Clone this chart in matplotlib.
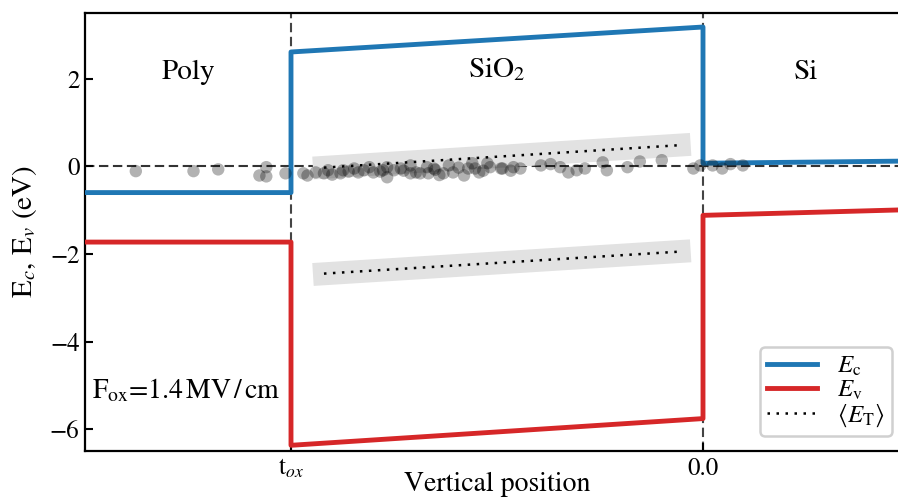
import matplotlib
matplotlib.use('Agg')
import matplotlib.pyplot as plt

plt.rcParams['font.family'] = ['STIXGeneral', 'DejaVu Serif']
plt.rcParams['mathtext.fontset'] = 'stix'

# band edges (x in nm, oxide from t_ox=-3 to 0)
ec_x = [-4.5, -3.0, -3.0, 0.0, 0.0, 1.5]
ec_y = [-0.60, -0.60, 2.61, 3.18, 0.07, 0.12]
ev_x = [-4.5, -3.0, -3.0, 0.0, 0.0, 1.5]
ev_y = [-1.73, -1.73, -6.37, -5.76, -1.12, -0.99]

# mean trap levels and their spread
et_x = [-2.76, -0.18]
et_up = [-0.03, 0.48]
et_low = [-2.45, -1.95]
band_x = [-2.84, -0.09]
band_up = [-0.04, 0.50]
band_low = [-2.47, -1.93]

# trap positions / energies
trap_x = [-4.13, -3.71, -3.53, -3.23, -3.18, -3.18, -3.04,
          -2.91, -2.88, -2.82, -2.76, -2.73, -2.70, -2.64, -2.62, -2.58, -2.54,
          -2.51, -2.47, -2.43, -2.40, -2.35, -2.33, -2.30, -2.30, -2.25, -2.20,
          -2.18, -2.13, -2.13, -2.09, -2.06, -2.01, -2.00, -1.96, -1.95, -1.92,
          -1.89, -1.85, -1.82, -1.78, -1.74, -1.71, -1.68, -1.66, -1.63, -1.60,
          -1.57, -1.55, -1.47, -1.46, -1.40, -1.38, -1.33, -1.18, -1.11, -1.04,
          -0.98, -0.92, -0.86, -0.73, -0.70, -0.55, -0.46, -0.30,
          -0.07, -0.02, 0.07, 0.14, 0.20, 0.29]
trap_y = [-0.11, -0.11, -0.07, -0.21, -0.23, -0.02, -0.16,
          -0.16, -0.21, -0.14, -0.16, -0.09, -0.19, -0.16, -0.09, -0.12, -0.05,
          -0.14, -0.09, -0.02, -0.14, -0.12, -0.09, -0.02, -0.25, -0.09, -0.05,
          -0.10, 0.02, -0.16, -0.14, -0.16, -0.02, -0.16, -0.05, -0.08, -0.20,
          -0.16, 0.02, -0.14, -0.03, -0.21, -0.05, 0.07, -0.05, -0.14, -0.10,
          0.07, -0.02, -0.05, -0.05, -0.10, -0.02, -0.05, 0.02, 0.05, -0.02,
          -0.14, -0.09, -0.05, 0.09, -0.09, -0.02, 0.11, 0.14,
          -0.05, 0.02, 0.02, -0.05, 0.05, 0.02]

x_ticks = [-3.0, 0.0]
x_ticklabels = ['t$_{ox}$', '0.0']
y_ticks = [-6, -4, -2, 0, 2]

fig = plt.figure(figsize=(8.98, 4.98), dpi=100)
ax = fig.add_axes([85 / 898, 47 / 498, 824 / 898, 438 / 498])

ax.axhline(0, color='#333333', lw=1.5, dashes=(4.5, 2.2), zorder=1)
for xv in x_ticks:
    ax.axvline(xv, color='#444444', lw=1.5, dashes=(4.5, 2.2), zorder=1)

ax.plot(band_x, band_up, color='#e2e2e2', lw=16.5, solid_capstyle='butt', zorder=2)
ax.plot(band_x, band_low, color='#e2e2e2', lw=16.5, solid_capstyle='butt', zorder=2)

ax.plot(ec_x, ec_y, color='#1f77b4', lw=3.5, label=r'$E_{\rm c}$', zorder=3)
ax.plot(ev_x, ev_y, color='#d62728', lw=3.5, label=r'$E_{\rm v}$', zorder=3)
ax.plot(et_x, et_up, color='black', lw=1.8, dashes=(1, 2.6), label=r'$\langle E_{\rm T}\rangle$', zorder=4)
ax.plot(et_x, et_low, color='black', lw=1.8, dashes=(1, 2.6), zorder=4)

ax.scatter(trap_x, trap_y, s=80, color='black', alpha=0.3, edgecolors='none', zorder=5)

ax.text(-3.75, 2.15, 'Poly', fontsize=21, ha='center', va='center')
ax.text(-1.5, 2.2, 'SiO$_2$', fontsize=21, ha='center', va='center')
ax.text(0.75, 2.15, 'Si', fontsize=21, ha='center', va='center')
ax.text(-4.45, -5.13, r'F$_{\rm ox}$=1.4$\,$MV$\,$/$\,$cm', fontsize=20, ha='left', va='center')

ax.set_xlim(-4.5, 1.5)
ax.set_ylim(-6.5, 3.5)
ax.set_xticks(x_ticks)
ax.set_xticklabels(x_ticklabels)
ax.set_yticks(y_ticks)
ax.set_yticklabels(['\u22126', '\u22124', '\u22122', '0', '2'])
ax.tick_params(direction='in', length=6, width=1.5, labelsize=18, pad=4)
for sp in ax.spines.values():
    sp.set_linewidth(1.6)
ax.set_xlabel('Vertical position', fontsize=20, labelpad=-6)
ax.set_ylabel(r'E$_c$, E$_v$ (eV)', fontsize=21, labelpad=8)

leg = ax.legend(loc='lower right', bbox_to_anchor=(0.979, 0.034), borderaxespad=0,
                fontsize=18, handlelength=2.0, handletextpad=0.8, labelspacing=0.0,
                borderpad=0.3, framealpha=1, edgecolor='#d0d0d0', fancybox=True)
leg.get_frame().set_linewidth(1.8)

fig.savefig('out.png', dpi=100)
plt.close(fig)
